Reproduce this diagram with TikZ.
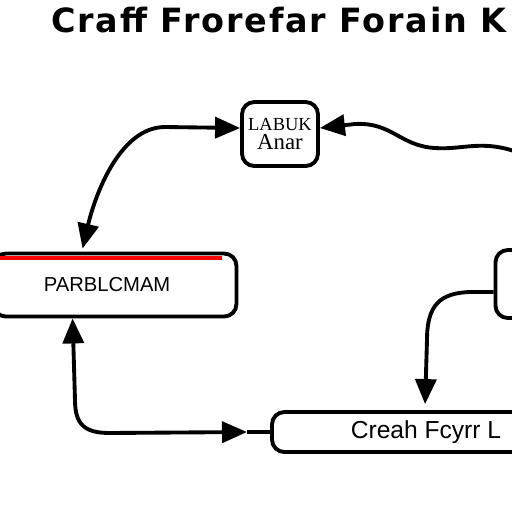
\documentclass[tikz,border=0pt]{standalone}
\usepackage{fontspec}
\setmainfont{Liberation Serif}
\setsansfont{Liberation Sans}
\newfontfamily\headfont[LetterSpace=5.5]{DejaVu Sans}
\usetikzlibrary{calc,arrows.meta}

\begin{document}
\begin{tikzpicture}[x=0.02cm,y=-0.02cm,
    box/.style={draw,line width=2.2pt,rounded corners=7pt,fill=white,inner sep=0pt},
    tip/.tip={Triangle[length=0.5cm,width=0.42cm]},
    link/.style={line width=2.2pt,-tip},
    dlink/.style={line width=2.2pt,tip-tip}]
            \useasboundingbox (0,0) rectangle (512,512);

            \node[font={\headfont\bfseries\fontsize{19}{21}\selectfont}] (title) at (279,20) {Craff Frorefar Forain K};

            \node[box,minimum width=1.52cm,minimum height=1.28cm,align=center] (labuk) at (280,134) {
                {\fontsize{10.5}{12}\selectfont LABUK}\\[-1pt]
                {\fontsize{13}{15}\selectfont Anar}
            };

            \node[box,minimum width=4.86cm,minimum height=1.26cm,font={\sffamily\fontsize{11.5}{13}\selectfont}] (parb) at (115,285) {\hspace{-9pt}\raisebox{-4pt}{PARBLCMAM}};
            \draw[red,line width=2.2pt] ($ (parb.north west) + (0,6) $) -- ($ (parb.north east) + (-16,6) $);

            \node[box,minimum width=0.9cm,minimum height=1.36cm] (rbox) at (518,284) {};

            \node[box,minimum width=6.16cm,minimum height=0.8cm,font={\sffamily\fontsize{14}{16}\selectfont}] (cfb) at (426,432) {Creah Fcyrr L};

            \coordinate (offr) at (514,151);
            \coordinate (stub) at (247,432);

            \draw[dlink] ($ (parb.north west) + (91,-3) $) .. controls (95,195) and (120,127) .. (165,127) -- ($ (labuk.west) + (0,-6) $);
            \draw[link] (offr) .. controls (480,140) and (462,150) .. (435,148) .. controls (400,146) and (392,122) .. (355,124) -- ($ (labuk.east) + (0,-6) $);
            \draw[link] ($ (rbox.west) + (0,8) $) -- (470,292) .. controls (440,293) and (427,305) .. (427,340) -- ($ (cfb.north west) + (155,-6) $);
            \draw[dlink] ($ (parb.south west) + (81,0) $) -- (75,400) .. controls (75,425) and (85,433) .. (110,433) -- (stub);
            \draw[line width=2.2pt] (stub) -- (cfb.west);
        \end{tikzpicture}
\end{document}
